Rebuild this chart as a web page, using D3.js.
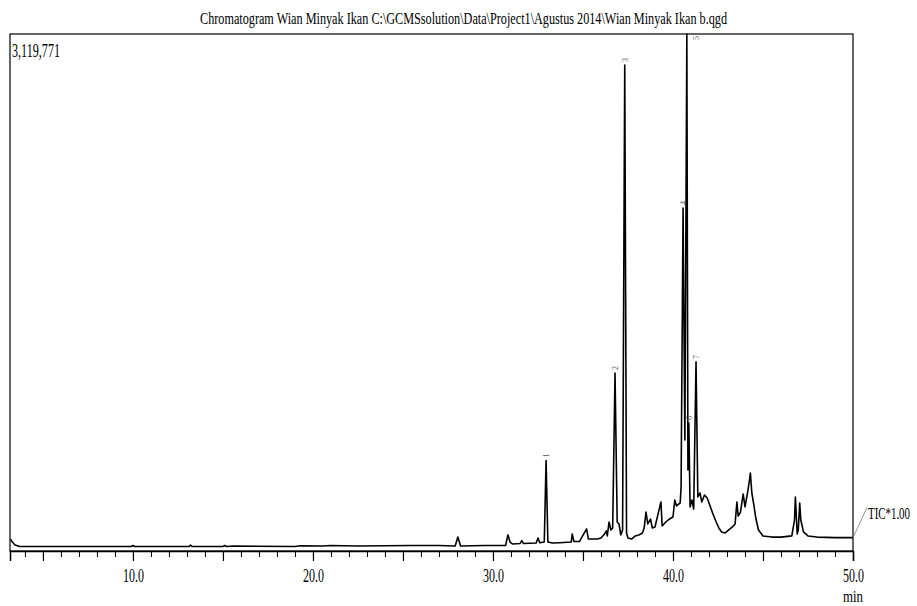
<!DOCTYPE html>
<html>
<head>
<meta charset="utf-8">
<script src="https://cdn.jsdelivr.net/npm/d3@7"></script>
<style>
  body { margin: 0; background: #fff; }
  text { font-family: "Liberation Serif", "Times New Roman", serif; }
</style>
</head>
<body>
<svg width="917" height="606"></svg>
<script>
// retention time (min) and TIC intensity (counts, thousands)
const times = [
  3.2, 3.3, 3.45, 3.7, 6.0, 9.9, 10.0, 10.1, 13.1, 13.2, 13.3, 15.0, 15.1, 15.2, 15.6,
  19.0, 19.3, 20.5, 21.0, 22.5, 24.0, 25.5, 27.0, 27.9, 28.05, 28.2, 29.5, 30.7, 30.83,
  30.95, 31.1, 31.5, 31.6, 31.7, 32.4, 32.5, 32.6, 32.85, 32.95, 33.05, 33.3, 33.7,
  34.35, 34.4, 34.5, 34.8, 35.2, 35.3, 35.8, 36.0, 36.2, 36.3, 36.35, 36.45, 36.55,
  36.65, 36.78, 36.9, 37.0, 37.1, 37.2, 37.32, 37.42, 37.5, 37.7, 37.9, 38.1, 38.3,
  38.4, 38.5, 38.6, 38.75, 38.85, 39.0, 39.33, 39.4, 39.6, 39.8, 40.0, 40.1, 40.2,
  40.4, 40.45, 40.56, 40.66, 40.77, 40.83, 40.88, 40.95, 41.05, 41.15, 41.28, 41.38,
  41.5, 41.6, 41.75, 41.9, 42.0, 42.2, 42.4, 42.55, 42.7, 42.9, 43.1, 43.3, 43.45,
  43.55, 43.62, 43.75, 43.9, 44.0, 44.15, 44.25, 44.3, 44.38, 44.5, 44.6, 44.75,
  45.0, 45.5, 46.0, 46.6, 46.75, 46.8, 46.9, 46.96, 47.04, 47.1, 47.25, 47.5, 48.0,
  49.0, 50.0
];
const intensity = [
  72, 54, 36, 27, 27, 27, 33, 27, 27, 36, 27, 27, 33, 27, 30,
  27, 32, 30, 33, 30, 32, 33, 33, 30, 84, 30, 33, 33, 97,
  54, 42, 45, 63, 45, 48, 78, 50, 54, 546, 54, 48, 50,
  54, 103, 57, 57, 133, 72, 72, 78, 103, 121, 91, 175, 127,
  139, 1074, 175, 163, 97, 127, 2933, 109, 78, 72, 91, 97, 109,
  139, 235, 163, 193, 139, 145, 296, 151, 175, 193, 205, 308, 272,
  290, 386, 2070, 670, 3119.771, 489, 772, 266, 308, 253, 1141, 326,
  350, 296, 338, 320, 290, 229, 175, 139, 115, 109, 127, 145, 163,
  296, 211, 235, 344, 266, 356, 428, 471, 350, 272, 199, 127,
  91, 84, 84, 91, 187, 326, 103, 127, 290, 187, 115, 91, 84,
  81, 81
];

// labelled peaks
const peakNo = ['1', '2', '3', '4', '5', '6', '7'];
const peakRT = [32.95, 36.78, 37.32, 40.56, 40.77, 40.88, 41.28];

const xTicksMinor = d3.range(4, 51, 1);
const xTicksMajor = d3.range(5, 51, 5);

const title = 'Chromatogram Wian Minyak Ikan C:\\GCMSsolution\\Data\\Project1\\Agustus 2014\\Wian Minyak Ikan b.qgd';

const svg = d3.select('svg');
const plotL = 10, plotR = 853, plotT = 34, plotB = 551;

const x = d3.scaleLinear().domain([3.17, 50]).range([plotL, plotR]);
const y = d3.scaleLinear().domain([0, 3119.771]).range([plotB, plotT]);

const data = times.map((t, i) => ({ t, v: intensity[i] }));

// title
svg.append('text')
  .attr('x', 200).attr('y', 24)
  .attr('font-size', 16)
  .attr('textLength', 527).attr('lengthAdjust', 'spacingAndGlyphs')
  .text(title);

// frame
svg.append('rect')
  .attr('x', plotL).attr('y', plotT)
  .attr('width', plotR - plotL).attr('height', plotB - plotT)
  .attr('fill', 'none').attr('stroke', '#000').attr('stroke-width', 1.2);

svg.append('text')
  .attr('x', 12).attr('y', 57)
  .attr('font-size', 18)
  .attr('textLength', 48).attr('lengthAdjust', 'spacingAndGlyphs')
  .text(d3.format(',')(3119771));

// axis
const minorAxis = d3.axisBottom(x).tickValues(xTicksMinor).tickSize(6).tickFormat('');
const majorAxis = d3.axisBottom(x).tickValues(xTicksMajor).tickSize(10)
  .tickFormat(d => d % 10 === 0 ? d3.format('.1f')(d) : '');

svg.append('g').attr('transform', `translate(0,${plotB})`).call(minorAxis)
  .call(g => g.select('.domain').remove());
const gx = svg.append('g').attr('transform', `translate(0,${plotB})`).call(majorAxis);
gx.select('.domain').attr('stroke-width', 1.5);
gx.selectAll('line').attr('stroke-width', 1.2);
gx.selectAll('text')
  .attr('font-family', '"Liberation Serif", serif')
  .attr('font-size', 18).attr('fill', '#000')
  .attr('y', 31).attr('dy', 0)
  .attr('textLength', function () { return this.textContent ? 21 : null; })
  .attr('lengthAdjust', 'spacingAndGlyphs');

svg.append('text')
  .attr('x', x(50)).attr('y', 602)
  .attr('text-anchor', 'middle').attr('font-size', 16)
  .attr('textLength', 20).attr('lengthAdjust', 'spacingAndGlyphs')
  .text('min');

// trace
const line = d3.line().x(d => x(d.t)).y(d => y(d.v));
svg.append('path')
  .datum(data)
  .attr('fill', 'none').attr('stroke', '#000')
  .attr('stroke-width', 1.6).attr('stroke-linejoin', 'round')
  .attr('d', line);

// peak labels
const valueAt = t => data.find(d => Math.abs(d.t - t) < 1e-6).v;
svg.append('g').selectAll('text')
  .data(peakRT)
  .join('text')
  .attr('font-size', 8).attr('fill', '#555')
  .attr('transform', (t) => {
    const py = y(valueAt(t));
    if (py - 10 < plotT) return `translate(${x(t) + 12},${plotT + 2}) rotate(-90)`;
    return `translate(${x(t) + 3},${py - 3}) rotate(-90)`;
  })
  .attr('text-anchor', (t) => (y(valueAt(t)) - 10 < plotT ? 'end' : 'start'))
  .text((t, i) => peakNo[i]);

// TIC annotation
const lastY = y(intensity[intensity.length - 1]);
svg.append('line')
  .attr('x1', plotR).attr('y1', lastY)
  .attr('x2', plotR + 14).attr('y2', lastY - 30)
  .attr('stroke', '#777').attr('stroke-width', 0.8);
svg.append('text')
  .attr('transform', `translate(${plotR + 15},${lastY - 19}) scale(0.64,1)`)
  .attr('font-size', 17)
  .text('TIC*1.00');
</script>
</body>
</html>
